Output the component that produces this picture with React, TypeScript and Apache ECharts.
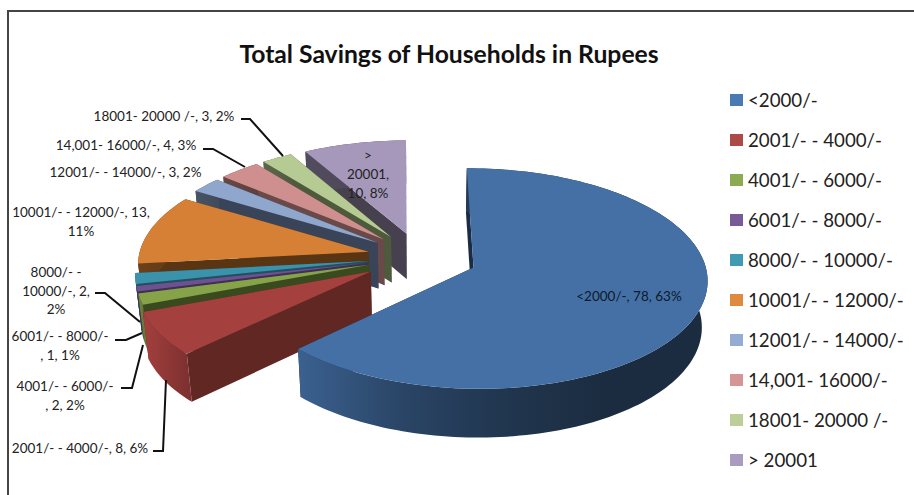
import React, { useEffect, useRef } from "react";
import * as echarts from "echarts";

const categories = [
  "<2000/-",
  "2001/- - 4000/-",
  "4001/- - 6000/-",
  "6001/- - 8000/-",
  "8000/- - 10000/-",
  "10001/- - 12000/-",
  "12001/- - 14000/-",
  "14,001- 16000/-",
  "18001- 20000 /-",
  "> 20001",
];
const householdCounts = [78, 8, 2, 1, 2, 13, 3, 4, 3, 10];
const percentLabels = [63, 6, 2, 1, 2, 11, 2, 3, 2, 8];

const topColors = ["#4470a5", "#a4403e", "#86a34a", "#6c5290", "#3a93aa", "#d68036", "#8fa6cd", "#cf8f8e", "#b6cb93", "#a698bb"];
const legendColors = ["#4a7ab3", "#ad4a48", "#8cab50", "#775a96", "#4199b2", "#e08a40", "#95abd4", "#d59594", "#bccf98", "#a99cc0"];
const sideColors = ["#1a2d45", "#612723", "#3a4a1f", "#3f2f55", "#1f5260", "#5a3513", "#3a4459", "#6a4a49", "#4d5a3b", "#46404f"];
const explodeAmounts = [0.25, 0.25, 0.23, 0.23, 0.23, 0.23, 0.23, 0.23, 0.23, 0.23];
const wallShades = [
  [0.87, 0.62, 0.48, 0.39, 0.39],
  [1, 0.77],
  [0.85, 0.75],
  [0.7, 0.6],
  [0.85, 0.75],
  [0.5, 0.45],
  [0.5, 0.45],
  [0.5, 0.45],
  [0.5, 0.45],
  [0.5, 0.45],
];

// Where each slice's data label sits, and how its wording wraps.
const labelLayout = [
  { x: 629, y: 296, lines: (t: string) => t },
  { x: 80, y: 448, lines: (t: string) => t },
  { x: 65, y: 395.5, lines: (t: string) => t.replace("6000/-, ", "6000/-\n, ") },
  { x: 60, y: 345.5, lines: (t: string) => t.replace("8000/-, ", "8000/-\n, ") },
  { x: 56, y: 290.5, lines: (t: string) => t.replace("- - ", "- -\n").replace(", 2, ", ", 2,\n") },
  { x: 81, y: 221.5, lines: (t: string) => t.replace(", 13, ", ", 13,\n") },
  { x: 125.5, y: 172, lines: (t: string) => t },
  { x: 126, y: 145, lines: (t: string) => t },
  { x: 164, y: 116, lines: (t: string) => t },
  { x: 368, y: 174, lines: (t: string) => t.replace("> 20001, ", ">\n20001,\n") },
];

const leaderLines = [
  [[241, 119], [250, 119], [283, 156]],
  [[203, 149], [213, 149], [245, 167]],
  [[95, 293], [105, 293], [140, 322]],
  [[115, 340], [126, 340], [142, 333]],
  [[121, 388], [132, 388], [143, 345]],
  [[153, 451], [163, 451], [166, 380]],
];

const FONT = "Lato, 'Open Sans', sans-serif";
const total = householdCounts.reduce((a, b) => a + b, 0);

// Perspective camera for the tilted disc: unit radius in plan, Z = 1 at the underside.
const CAM = { cx: 420, cy: 257, rx: 230, ry: 107, k: 0.1, m: 0.02, depth: 47, start: -0.5 };

function project(X: number, Y: number, Z: number): [number, number] {
  const s = 1 / (1 - CAM.k * Y + CAM.m * Z);
  return [CAM.cx + CAM.rx * X * s, CAM.cy + (CAM.ry * Y + CAM.depth * Z) * s];
}

function shadeColor(hex: string, f: number): string {
  const n = parseInt(hex.slice(1), 16);
  const c = (v: number) => Math.round(Math.min(255, v * f));
  return `rgb(${c((n >> 16) & 255)},${c((n >> 8) & 255)},${c(n & 255)})`;
}

function renderWedge(index: number, value: number) {
  const before = householdCounts.slice(0, index).reduce((a, b) => a + b, 0);
  const a0 = CAM.start + (before / total) * 360;
  const a1 = a0 + (value / total) * 360;
  const mid = ((a0 + a1) / 2) * (Math.PI / 180);
  const ox = Math.sin(mid) * explodeAmounts[index];
  const oy = -Math.cos(mid) * explodeAmounts[index];
  const steps = Math.max(3, Math.ceil((a1 - a0) / 1.5));
  const rim = (z: number) => {
    const pts: Array<[number, number]> = [];
    for (let i = 0; i <= steps; i++) {
      const t = (a0 + ((a1 - a0) * i) / steps) * (Math.PI / 180);
      pts.push(project(ox + Math.sin(t), oy - Math.cos(t), z));
    }
    return pts;
  };
  const apexTop = project(ox, oy, 0);
  const apexBottom = project(ox, oy, 1);
  const rimTop = rim(0);
  const rimBottom = rim(1);
  const side = topColors[index];
  const shades = wallShades[index];
  const xs = rimTop.map((p) => p[0]);
  const wallFill = new echarts.graphic.LinearGradient(
    Math.min(...xs), 0, Math.max(...xs), 0,
    shades.map((f, i) => ({ offset: i / (shades.length - 1), color: shadeColor(side, f) })),
    true
  );
  const dark = sideColors[index];
  const poly = (points: number[][], fill: any) => ({
    type: "polygon",
    shape: { points },
    style: { fill, stroke: "none" },
  });
  return {
    type: "group",
    children: [
      poly([apexTop, rimTop[0], rimBottom[0], apexBottom], dark),
      poly([apexTop, rimTop[steps], rimBottom[steps], apexBottom], dark),
      poly([...rimTop, ...rimBottom.slice().reverse()], wallFill),
      poly([apexTop, ...rimTop], side),
    ],
  };
}

export default function App() {
  const ref = useRef<HTMLDivElement>(null);
  useEffect(() => {
    document.body.style.margin = "0";
    document.body.style.background = "#fff";
    const chart = echarts.init(ref.current!, null, { renderer: "svg" });

    const labelText = (i: number) => `${categories[i]}, ${householdCounts[i]}, ${percentLabels[i]}%`;
    const texts = labelLayout.map((l, i) => ({
      type: "text",
      x: l.x,
      y: l.y,
      z: 100,
      style: {
        text: l.lines(labelText(i)),
        font: `13.5px ${FONT}`,
        lineHeight: 18.7,
        fill: i === 0 ? "#0d1a2a" : "#222222",
        textAlign: "center",
        textVerticalAlign: "middle",
      },
    }));
    const leaders = leaderLines.map((points) => ({
      type: "polyline",
      z: 100,
      shape: { points },
      style: { stroke: "#111111", lineWidth: 2, fill: "none" },
    }));

    chart.setOption({
      animation: false,
      title: {
        text: "Total Savings of Households in Rupees",
        left: 444,
        top: 36,
        textAlign: "center",
        textStyle: { fontFamily: FONT, fontSize: 24.7, fontWeight: "bold", color: "#111111" },
      },
      legend: {
        orient: "vertical",
        left: 725,
        top: 83,
        icon: "rect",
        itemWidth: 13,
        itemHeight: 12,
        itemGap: 16,
        selectedMode: false,
        data: categories,
        textStyle: { fontFamily: FONT, fontSize: 18.7, color: "#222222", lineHeight: 24 },
      },
      graphic: [
        {
          type: "polyline",
          shape: { points: [[8, 495], [8, 11], [914, 11]] },
          style: { stroke: "#444444", lineWidth: 2, fill: "none" },
        },
        ...leaders,
        ...texts,
      ],
      series: categories.map((name, i) => ({
        type: "custom",
        name,
        coordinateSystem: "none",
        silent: true,
        z: 2 + categories.length - i,
        itemStyle: { color: legendColors[i] },
        data: [[householdCounts[i]]],
        renderItem: (_p: any, api: any) => renderWedge(i, api.value(0)),
      })),
    });
    return () => chart.dispose();
  }, []);
  return <div ref={ref} style={{ width: 914, height: 495 }} />;
}
